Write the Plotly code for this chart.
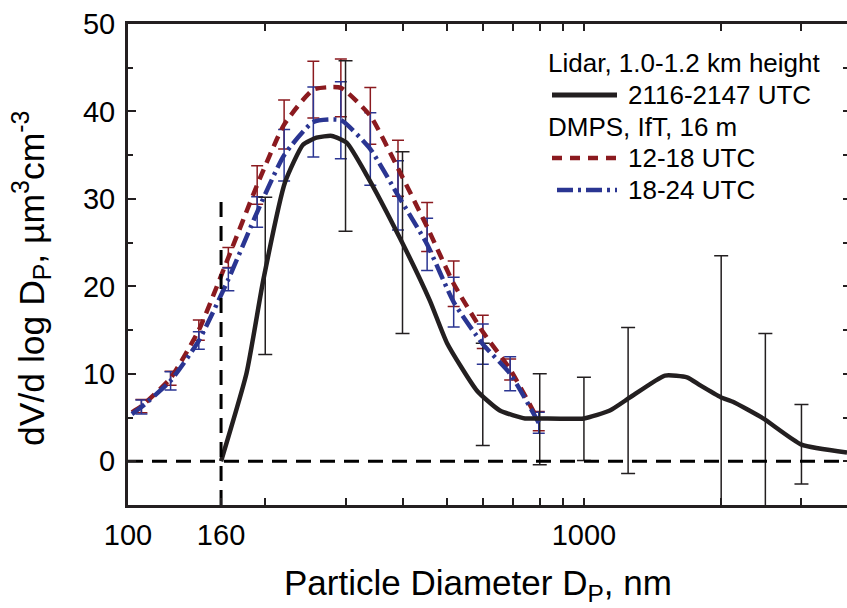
import plotly.graph_objects as go

# ---------------- data ----------------
lidar_x = [160, 182, 198, 221, 242, 259, 280, 302, 334, 395, 459, 501, 582, 654, 743,
           801, 1000, 1140, 1262, 1506, 1683, 1796, 2000, 2122, 2472, 3000, 3776]
lidar_y = [0.0, 10.1, 20.7, 31.9, 36.2, 37.0, 37.2, 36.4, 32.7, 25.5, 18.4, 13.5, 8.1, 5.8, 4.9,
           4.9, 4.9, 5.8, 7.3, 9.8, 9.6, 8.7, 7.3, 6.8, 4.9, 1.9, 1.0]

lidar_err_x = [200, 300, 400, 600, 800, 1000, 1250, 2000, 2500, 3000]
lidar_err_lo = [12.2, 26.3, 14.6, 1.8, -0.4, 0.1, -1.4, -8.9, -5.1, -2.6]
lidar_err_hi = [30.2, 45.8, 35.4, 13.5, 10.0, 9.6, 15.3, 23.5, 14.6, 6.5]

dmps_x = [107, 124, 143, 166, 192, 220, 255, 293, 340, 391, 453, 518, 600, 689, 796]
red_y = [6.3, 9.5, 15.0, 23.3, 31.6, 38.5, 42.5, 42.7, 39.5, 33.5, 26.8, 20.3, 14.8, 10.5, 4.6]
red_err = [0.75, 0.8, 1.15, 1.15, 2.2, 2.8, 3.25, 3.3, 3.25, 3.2, 2.8, 2.6, 1.9, 1.2, 1.1]
blue_y = [6.2, 9.2, 13.8, 20.8, 28.5, 35.0, 38.8, 39.0, 35.7, 30.4, 24.8, 18.2, 13.4, 10.0, 4.4]
blue_err = [0.8, 1.05, 1.0, 1.3, 1.75, 2.95, 4.0, 4.4, 4.15, 3.95, 3.0, 2.85, 2.3, 1.95, 1.2]

line_x = [102] + dmps_x
red_line_y = [5.6] + red_y
blue_line_y = [5.4] + blue_y

cut_x = [160, 160]
cut_y = [-5, 30]
zero_x = [100, 3800]
zero_y = [0, 0]

x_tick_vals = [100, 160, 200, 300, 400, 500, 600, 700, 800, 900, 1000, 2000, 3000]
x_tick_text = ["100", "160", "", "", "", "", "", "", "", "", "1000", "", ""]
x_top_vals = [200, 300, 400, 500, 600, 700, 800, 900, 1000, 2000, 3000]
y_tick_vals = [0, 10, 20, 30, 40, 50]
y_minor_vals = [5, 15, 25, 35, 45]
y_right_vals = [0, 5, 10, 15, 20, 25, 30, 35, 40, 45]

legend_titles = ["Lidar, 1.0-1.2 km height", "DMPS, IfT, 16 m"]
legend_items = ["2116-2147 UTC", "12-18 UTC", "18-24 UTC"]

# ---------------- styling ----------------
FONT = "Liberation Sans, Arial, sans-serif"
INK = "#231f20"
RED = "#8b1a1f"
BLUE = "#2a3592"

W, H = 847, 608
ML, MR, MT, MB = 128, 0, 24, 103
PW, PH = W - ML - MR, H - MT - MB


def px_x(p):
    return (p - ML) / PW


def px_y(p):
    return (H - MB - p) / PH


fig = go.Figure()

# error bars
lid_mid = [(a + b) / 2 for a, b in zip(lidar_err_lo, lidar_err_hi)]
lid_plus = [b - m for b, m in zip(lidar_err_hi, lid_mid)]
lid_minus = [m - a for a, m in zip(lidar_err_lo, lid_mid)]

fig.add_trace(go.Scatter(x=dmps_x, y=red_y, mode="markers", marker=dict(size=0.1, opacity=0),
                         error_y=dict(type="data", array=red_err, color=RED, thickness=1.5, width=6),
                         showlegend=False, hoverinfo="skip"))
fig.add_trace(go.Scatter(x=dmps_x, y=blue_y, mode="markers", marker=dict(size=0.1, opacity=0),
                         error_y=dict(type="data", array=blue_err, color=BLUE, thickness=1.5, width=6),
                         showlegend=False, hoverinfo="skip"))
fig.add_trace(go.Scatter(x=lidar_err_x, y=lid_mid, mode="markers", marker=dict(size=0.1, opacity=0),
                         error_y=dict(type="data", symmetric=False, array=lid_plus, arrayminus=lid_minus,
                                      color=INK, thickness=1.5, width=7),
                         showlegend=False, hoverinfo="skip"))

# lines
fig.add_trace(go.Scatter(x=line_x, y=red_line_y, mode="lines", name="12-18 UTC",
                         line=dict(color=RED, width=4.5, dash="11px,7px", shape="spline", smoothing=0.5),
                         showlegend=False))
fig.add_trace(go.Scatter(x=line_x, y=blue_line_y, mode="lines", name="18-24 UTC",
                         line=dict(color=BLUE, width=4.5, dash="16px,5px,3px,5px", shape="spline", smoothing=0.5),
                         showlegend=False))
fig.add_trace(go.Scatter(x=lidar_x, y=lidar_y, mode="lines", name="2116-2147 UTC",
                         line=dict(color=INK, width=4.5, shape="spline", smoothing=0.5),
                         showlegend=False))

# reference dashed lines (zero line lives on the overlay axes so they get drawn)
fig.add_trace(go.Scatter(x=zero_x, y=zero_y, mode="lines", xaxis="x2", yaxis="y2",
                         line=dict(color="black", width=3, dash="15px,9px"),
                         showlegend=False, hoverinfo="skip"))
fig.add_trace(go.Scatter(x=cut_x, y=cut_y, mode="lines",
                         line=dict(color="black", width=3, dash="15px,9px"),
                         showlegend=False, hoverinfo="skip"))

xrange = [2, 3.577]
yrange = [-5, 50]

fig.update_layout(
    width=W, height=H,
    margin=dict(l=ML, r=MR, t=MT, b=MB, pad=0),
    paper_bgcolor="white", plot_bgcolor="white",
    font=dict(family=FONT, color="black"),
    xaxis=dict(type="log", range=xrange, showgrid=False, zeroline=False,
               showline=True, linecolor=INK, linewidth=3,
               ticks="inside", tickmode="array", tickvals=x_tick_vals, ticktext=x_tick_text,
               ticklen=7, tickwidth=2, tickcolor=INK,
               tickfont=dict(size=29, family=FONT, color="black"),
               ticklabelstandoff=2),
    xaxis2=dict(type="log", range=xrange, overlaying="x", side="top", showgrid=False,
                zeroline=False, showline=True, linecolor=INK, linewidth=3,
                ticks="inside", tickmode="array", tickvals=x_top_vals, ticklen=7, tickwidth=2,
                tickcolor=INK, showticklabels=False),
    yaxis=dict(range=yrange, showgrid=False, zeroline=False,
               showline=True, linecolor=INK, linewidth=3,
               ticks="inside", tickmode="array", tickvals=y_tick_vals, ticklen=8, tickwidth=2,
               tickcolor=INK,
               tickfont=dict(size=29, family=FONT, color="black"),
               ticklabelstandoff=4,
               minor=dict(tickmode="array", tickvals=y_minor_vals, ticks="inside", ticklen=5,
                          tickwidth=2, tickcolor=INK, showgrid=False)),
    yaxis2=dict(range=yrange, overlaying="y", side="right", showgrid=False, zeroline=False,
                showline=False, ticks="inside", tickmode="array", tickvals=y_right_vals,
                ticklen=4, tickwidth=2, tickcolor=INK, showticklabels=False),
    showlegend=False,
)

# axis titles
fig.add_annotation(text="Particle Diameter D<sub>P</sub>, nm", xref="paper", yref="paper",
                   x=px_x(478), y=px_y(585), xanchor="center", yanchor="middle", showarrow=False,
                   font=dict(size=35, family=FONT, color="black"))
fig.add_annotation(text="dV/d log D<sub>P</sub>, µm<sup>3</sup>cm<sup>-3</sup>", xref="paper", yref="paper",
                   x=px_x(31), y=px_y(279), xanchor="center", yanchor="middle", textangle=-90,
                   showarrow=False, font=dict(size=35.5, family=FONT, color="black"))

# legend (drawn manually to match the reference layout)
LFS = 26
rows = [63, 95, 127, 158, 190]
fig.add_annotation(text=legend_titles[0], xref="paper", yref="paper", x=px_x(546), y=px_y(rows[0]),
                   xanchor="left", yanchor="middle", showarrow=False, font=dict(size=LFS, family=FONT))
fig.add_annotation(text=legend_items[0], xref="paper", yref="paper", x=px_x(626), y=px_y(rows[1]),
                   xanchor="left", yanchor="middle", showarrow=False, font=dict(size=LFS, family=FONT))
fig.add_annotation(text=legend_titles[1], xref="paper", yref="paper", x=px_x(546), y=px_y(rows[2]),
                   xanchor="left", yanchor="middle", showarrow=False, font=dict(size=LFS, family=FONT))
fig.add_annotation(text=legend_items[1], xref="paper", yref="paper", x=px_x(626), y=px_y(rows[3]),
                   xanchor="left", yanchor="middle", showarrow=False, font=dict(size=LFS, family=FONT))
fig.add_annotation(text=legend_items[2], xref="paper", yref="paper", x=px_x(626), y=px_y(rows[4]),
                   xanchor="left", yanchor="middle", showarrow=False, font=dict(size=LFS, family=FONT))

fig.add_shape(type="line", xref="paper", yref="paper", x0=px_x(552), x1=px_x(617),
              y0=px_y(rows[1]), y1=px_y(rows[1]), line=dict(color=INK, width=5))
fig.add_shape(type="line", xref="paper", yref="paper", x0=px_x(552), x1=px_x(617),
              y0=px_y(rows[3]), y1=px_y(rows[3]), line=dict(color=RED, width=4.5, dash="10px,8px"))
fig.add_shape(type="line", xref="paper", yref="paper", x0=px_x(557), x1=px_x(617),
              y0=px_y(rows[4]), y1=px_y(rows[4]), line=dict(color=BLUE, width=4.5, dash="16px,5px,3px,5px"))

fig.write_html("out.html")
